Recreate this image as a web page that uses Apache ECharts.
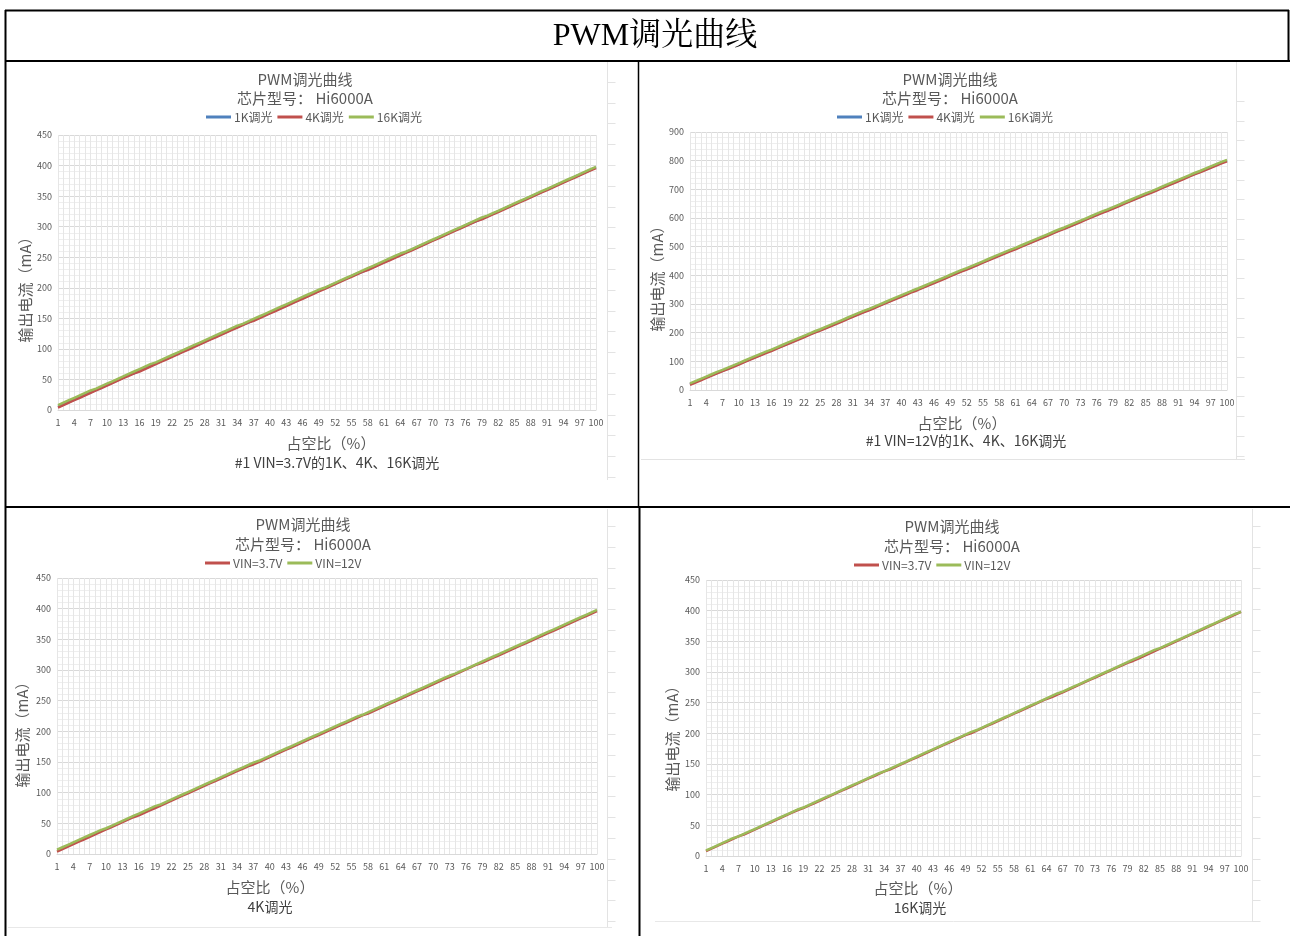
<!DOCTYPE html>
<html>
<head>
<meta charset="utf-8">
<title>PWM调光曲线</title>
<script src="https://cdn.jsdelivr.net/npm/echarts@6/dist/echarts.min.js"></script>
<style>
  html, body { margin: 0; padding: 0; background: #fff; }
  #page { width: 1290px; height: 936px; }
</style>
</head>
<body>
<div id="page"></div>
<script>
// Duty cycle categories (%)
const dutyCycle = [
  1,2,3,4,5,6,7,8,9,10,11,12,13,14,15,16,17,18,19,20,
  21,22,23,24,25,26,27,28,29,30,31,32,33,34,35,36,37,38,39,40,
  41,42,43,44,45,46,47,48,49,50,51,52,53,54,55,56,57,58,59,60,
  61,62,63,64,65,66,67,68,69,70,71,72,73,74,75,76,77,78,79,80,
  81,82,83,84,85,86,87,88,89,90,91,92,93,94,95,96,97,98,99,100
];

// Output current (mA), VIN = 3.7V
const vin37_1k = [
  5,9,13,17,21,25,29,33,37,41, 45,49,53,57,60,64,68,72,76,80,
  84,88,92,96,100,104,108,112,116,120, 124,128,132,136,140,143,147,151,155,159,
  163,167,171,175,179,183,187,191,195,199, 203,207,211,215,219,223,226,230,234,238,
  242,246,250,254,258,262,266,270,274,278, 282,286,290,294,298,302,306,309,313,317,
  321,325,329,333,337,341,345,349,353,357, 361,365,369,373,377,381,385,389,393,397
];
const vin37_4k = [
  4,8,12,16,20,24,28,32,36,40, 44,48,52,56,60,63,67,71,75,79,
  83,87,91,95,99,103,107,111,115,119, 123,127,131,135,139,143,146,150,154,158,
  162,166,170,174,178,182,186,190,194,198, 202,206,210,214,218,222,226,229,233,237,
  241,245,249,253,257,261,265,269,273,277, 281,285,289,293,297,301,305,309,312,316,
  320,324,328,332,336,340,344,348,352,356, 360,364,368,372,376,380,384,388,392,396
];
const vin37_16k = [
  8,12,16,20,24,28,32,35,39,43, 47,51,55,59,63,67,71,75,78,82,
  86,90,94,98,102,106,110,114,118,122, 126,130,134,138,141,145,149,153,157,161,
  165,169,173,177,181,185,189,193,197,200, 204,208,212,216,220,224,228,232,236,240,
  244,248,252,256,259,263,267,271,275,279, 283,287,291,295,299,303,307,311,315,318,
  322,326,330,334,338,342,346,350,354,358, 362,366,370,374,378,382,386,390,394,398
];

// Output current (mA), VIN = 12V
const vin12_1k = [
  20,28,36,44,52,60,67,75,83,91, 99,107,115,123,131,138,146,154,162,170,
  178,186,194,202,209,217,225,233,241,249, 257,265,273,280,288,296,304,312,320,328,
  336,344,351,359,367,375,383,391,399,407, 415,422,430,438,446,454,462,470,478,486,
  493,501,509,517,525,533,541,549,557,564, 572,580,588,596,604,612,620,627,635,643,
  651,659,667,675,683,690,698,706,714,722, 730,738,746,754,761,769,777,785,793,800
];
const vin12_4k = [
  18,26,34,42,50,58,66,73,81,89, 97,105,113,121,129,136,144,152,160,168,
  176,184,192,200,207,215,223,231,239,247, 255,263,271,278,286,294,302,310,318,326,
  334,342,349,357,365,373,381,389,397,405, 413,420,428,436,444,452,460,468,476,484,
  491,499,507,515,523,531,539,547,555,562, 570,578,586,594,602,610,618,625,633,641,
  649,657,665,673,681,688,696,704,712,720, 728,736,744,752,759,767,775,783,791,798
];
const vin12_16k = [
  23,31,39,47,55,63,70,78,86,94, 102,110,118,126,134,141,149,157,165,173,
  181,189,197,205,212,220,228,236,244,252, 260,268,276,283,291,299,307,315,323,331,
  339,347,354,362,370,378,386,394,402,410, 418,425,433,441,449,457,465,473,481,489,
  496,504,512,520,528,536,544,552,560,567, 575,583,591,599,607,615,623,630,638,646,
  654,662,670,678,686,693,701,709,717,725, 733,741,749,757,764,772,780,788,796,803
];

// VIN comparison curves at 4K and 16K dimming
const cmp4k_vin37 = vin37_4k;
const cmp4k_vin12 = [
  7,11,15,19,23,27,31,35,39,42, 46,50,54,58,62,66,70,74,78,81,
  85,89,93,97,101,105,109,113,117,121, 125,129,133,137,141,145,149,152,156,160,
  164,168,172,176,180,184,188,192,196,200, 204,208,212,216,220,224,227,231,235,239,
  243,247,251,255,259,263,267,271,275,279, 283,287,291,294,298,302,306,310,314,318,
  322,326,330,334,338,342,346,350,354,358, 362,366,370,374,378,382,386,390,394,398
];
const cmp16k_vin37 = vin37_16k;
const cmp16k_vin12 = [
  9,13,17,21,25,29,32,36,40,44, 48,52,56,60,64,68,72,76,79,83,
  87,91,95,99,103,107,111,115,119,123, 127,131,135,138,142,146,150,154,158,162,
  166,170,174,178,182,186,190,194,198,202, 205,209,213,217,221,225,229,233,237,241,
  245,249,253,257,261,265,268,272,276,280, 284,288,292,296,300,304,308,312,316,320,
  324,328,332,336,339,343,347,351,355,359, 363,367,371,375,379,383,387,391,395,398
];

// Text
const pageTitle = 'PWM调光曲线';
const chartTitle = 'PWM调光曲线';
const chipLine = '芯片型号： Hi6000A';
const yName = '输出电流（mA）';
const xName = '占空比（%）';

const BLUE = '#4F81BD', RED = '#C0504D', GREEN = '#9BBB59';
const UI_FONT = "'Liberation Sans Narrow','Noto Sans CJK SC',sans-serif";
const CJK_FONT = "'Noto Sans CJK SC','Liberation Sans',sans-serif";

// Panel layout (2 x 2)
const panels = [
  {
    grid: { left: 58, top: 135, width: 538, height: 275 },
    yMax: 450, yStep: 50, cx: 305, titleY: 79, subY: 98,
    legendLeft: 206, legendTop: 111,
    yNameX: 25, yNameY: 286, xNameX: 331, xNameY: 443,
    capX: 337, capY: 463, caption: '#1 VIN=3.7V的1K、4K、16K调光',
    lines: [['1K调光', vin37_1k, BLUE], ['4K调光', vin37_4k, RED], ['16K调光', vin37_16k, GREEN]]
  },
  {
    grid: { left: 690, top: 132, width: 537, height: 258 },
    yMax: 900, yStep: 100, cx: 950, titleY: 79, subY: 98,
    legendLeft: 837, legendTop: 111,
    yNameX: 657, yNameY: 275, xNameX: 962, xNameY: 423,
    capX: 966, capY: 441, caption: '#1 VIN=12V的1K、4K、16K调光',
    lines: [['1K调光', vin12_1k, BLUE], ['4K调光', vin12_4k, RED], ['16K调光', vin12_16k, GREEN]]
  },
  {
    grid: { left: 57, top: 578, width: 540, height: 276 },
    yMax: 450, yStep: 50, cx: 303, titleY: 524, subY: 544,
    legendLeft: 205, legendTop: 557,
    yNameX: 22, yNameY: 731, xNameX: 270, xNameY: 887,
    capX: 270, capY: 907, caption: '4K调光',
    lines: [['VIN=3.7V', cmp4k_vin37, RED], ['VIN=12V', cmp4k_vin12, GREEN]]
  },
  {
    grid: { left: 706, top: 580, width: 535, height: 276 },
    yMax: 450, yStep: 50, cx: 952, titleY: 526, subY: 546,
    legendLeft: 854, legendTop: 559,
    yNameX: 672, yNameY: 735, xNameX: 918, xNameY: 888,
    capX: 920, capY: 908, caption: '16K调光',
    lines: [['VIN=3.7V', cmp16k_vin37, RED], ['VIN=12V', cmp16k_vin12, GREEN]]
  }
];

function txt(text, x, y, size, color, rot) {
  return {
    type: 'text', silent: true, z: 10,
    x: x, y: y, rotation: rot || 0,
    style: {
      text: text, x: 0, y: 0, fill: color,
      font: size + 'px ' + CJK_FONT,
      align: 'center', verticalAlign: 'middle',
      textAlign: 'center', textVerticalAlign: 'middle'
    }
  };
}
function seg(x1, y1, x2, y2, color, w) {
  return { type: 'line', silent: true, z: 20,
    shape: { x1: x1, y1: y1, x2: x2, y2: y2 },
    style: { stroke: color, lineWidth: w } };
}

const grids = [], xAxes = [], yAxes = [], series = [], legends = [], graphics = [];

panels.forEach(function (p, i) {
  grids.push(Object.assign({ containLabel: false }, p.grid));
  xAxes.push({
    type: 'category', gridIndex: i, data: dutyCycle, boundaryGap: false,
    axisLine: { lineStyle: { color: '#d9d9d9', width: 1 } },
    axisTick: { show: false },
    axisLabel: { interval: 2, fontSize: 9, color: '#595959', margin: 8, fontFamily: UI_FONT },
    splitLine: { show: true, interval: 0, lineStyle: { color: '#e6e6e6', width: 1 } }
  });
  yAxes.push({
    type: 'value', gridIndex: i, min: 0, max: p.yMax, interval: p.yStep,
    axisLine: { show: false }, axisTick: { show: false },
    axisLabel: { fontSize: 9, color: '#595959', margin: 6, fontFamily: UI_FONT },
    splitLine: { show: true, lineStyle: { color: '#d9d9d9', width: 1 } },
    minorTick: { show: false, splitNumber: 5 },
    minorSplitLine: { show: true, lineStyle: { color: '#eeeeee', width: 1 } }
  });
  p.lines.forEach(function (ln) {
    series.push({
      type: 'line', name: ln[0], data: ln[1], xAxisIndex: i, yAxisIndex: i,
      showSymbol: false, symbol: 'none', smooth: false, animation: false,
      lineStyle: { color: ln[2], width: 2.5 }, itemStyle: { color: ln[2] }
    });
  });
  legends.push({
    left: p.legendLeft, top: p.legendTop, orient: 'horizontal',
    data: p.lines.map(function (ln) { return ln[0]; }),
    icon: 'rect', itemWidth: 25, itemHeight: 3, itemGap: 5, padding: 0,
    selectedMode: false,
    textStyle: { fontSize: 12, color: '#595959', fontFamily: CJK_FONT, padding: [0, 0, 0, -2] }
  });
  graphics.push(txt(chartTitle, p.cx, p.titleY, 15, '#595959'));
  graphics.push(txt(chipLine, p.cx, p.subY, 15, '#595959'));
  graphics.push(txt(yName, p.yNameX, p.yNameY, 15, '#595959', Math.PI / 2));
  graphics.push(txt(xName, p.xNameX, p.xNameY, 15, '#595959'));
  graphics.push(txt(p.caption, p.capX, p.capY, 14, '#404040'));
});

// Faint sheet gridlines along the edges of the embedded chart pictures
const edgeMarks = [
  { x: 607.5, y0: 62, y1: 480, first: 61, step: 20.8 },
  { x: 1236.5, y0: 62, y1: 459, first: 101, step: 19.7 },
  { x: 607.5, y0: 509, y1: 928, first: 526, step: 20.8 },
  { x: 1252.5, y0: 509, y1: 922, first: 526, step: 20.8 }
];
edgeMarks.forEach(function (m) {
  graphics.push(seg(m.x, m.y0, m.x, m.y1, '#e3e3e3', 1));
  for (let y = m.first; y < m.y1; y += m.step) {
    graphics.push(seg(m.x, Math.round(y) + 0.5, m.x + 8, Math.round(y) + 0.5, '#e3e3e3', 1));
  }
});
graphics.push(seg(641, 459.5, 1245, 459.5, '#e3e3e3', 1));
graphics.push(seg(8, 927.5, 612, 927.5, '#e8e8e8', 1));
graphics.push(seg(655, 921.5, 1252, 921.5, '#e8e8e8', 1));

// Document table frame
graphics.push(seg(5, 10.5, 1289, 10.5, '#000', 2));
graphics.push(seg(5, 61, 1290, 61, '#000', 2));
graphics.push(seg(5.5, 10, 5.5, 936, '#000', 2));
graphics.push(seg(1288.5, 10, 1288.5, 61, '#000', 2));
graphics.push(seg(638.5, 61, 638.5, 507, '#000', 1.5));
graphics.push(seg(5, 507, 1290, 507, '#000', 2));
graphics.push(seg(639.5, 507, 639.5, 936, '#000', 2));
graphics.push({
  type: 'text', silent: true, z: 10, x: 655, y: 37,
  style: {
    text: pageTitle, x: 0, y: 0, fill: '#000',
    font: "32px 'Liberation Serif','Noto Serif CJK SC','Noto Sans CJK SC',serif",
    align: 'center', verticalAlign: 'middle', textAlign: 'center', textVerticalAlign: 'middle'
  }
});

const chart = echarts.init(document.getElementById('page'), null, { renderer: 'canvas' });
chart.setOption({
  backgroundColor: '#ffffff',
  animation: false,
  grid: grids,
  xAxis: xAxes,
  yAxis: yAxes,
  legend: legends,
  series: series,
  graphic: graphics
});
</script>
</body>
</html>
